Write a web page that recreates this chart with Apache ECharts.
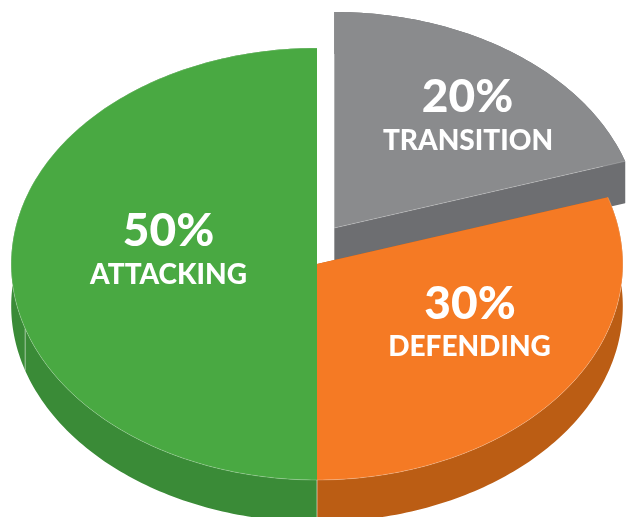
<!DOCTYPE html>
<html>
<head>
<meta charset="utf-8">
<style>
  html, body { margin: 0; padding: 0; background: #fff; }
  #chart { width: 630px; height: 517px; }
</style>
</head>
<body>
<div id="chart"></div>
<script src="https://cdn.jsdelivr.net/npm/echarts@6/dist/echarts.min.js"></script>
<script>
// slices clockwise from 12 o'clock
const categories = ["TRANSITION", "DEFENDING", "ATTACKING"];
const shares = [20, 30, 50];

const topColors = ["#8a8b8d", "#f57a24", "#49a942"];
const sideColors = ["#6d6e71", "#bb5d14", "#3a8b37"];

// the pie is squashed into an ellipse, axes run in page pixels
const cx = 317, cy = 264, rx = 305.8, ry = 216, depth = 42;
const offsets = [[17.3, -36], [0, 0], [0, 0]]; // exploded slice
// number x, number y, name x, name y
const labelPos = [[467.5, 97, 468, 141], [470, 304, 469.5, 347], [168.5, 231, 168.5, 275]];
const seamAngles = [[], [], [180, 252.6]]; // lines on the side wall

function rim(deg, off, drop) {
  const a = (deg * Math.PI) / 180;
  return [
    cx + off[0] + rx * Math.sin(a),
    cy + off[1] + drop - ry * Math.cos(a),
  ];
}

function arc(from, to, off, drop) {
  const pts = [];
  const steps = Math.ceil(to - from);
  for (let s = 0; s <= steps; s++) {
    pts.push(rim(from + ((to - from) * s) / steps, off, drop));
  }
  return pts;
}

function renderSlice(params, api) {
  const i = api.value(0);
  let before = 0;
  for (let k = 0; k < i; k++) before += shares[k];
  const from = (before / 100) * 360;
  const to = ((before + api.value(1)) / 100) * 360;
  const off = offsets[i];
  const apex = [cx + off[0], cy + off[1]];
  const apexLow = [apex[0], apex[1] + depth];
  const top = arc(from, to, off, 0);
  const low = arc(from, to, off, depth);

  const toPx = (pts) => pts.map((p) => api.coord(p));
  const children = [];

  // side wall: outer rim and the cut face on the last edge
  children.push({
    type: "polygon",
    shape: { points: toPx(top.concat(low.slice().reverse())) },
    style: { fill: sideColors[i] },
  });
  children.push({
    type: "polygon",
    shape: { points: toPx([apex, top[top.length - 1], low[low.length - 1], apexLow]) },
    style: { fill: sideColors[i] },
  });
  children.push({
    type: "polygon",
    shape: { points: toPx([apex, top[0], low[0], apexLow]) },
    style: { fill: sideColors[i] },
  });

  seamAngles[i].forEach((deg) => {
    const a = api.coord(rim(deg, off, 0));
    const b = api.coord(rim(deg, off, depth));
    children.push({
      type: "line",
      shape: { x1: a[0], y1: a[1], x2: b[0], y2: b[1] },
      style: { stroke: "rgba(255,255,255,0.55)", lineWidth: 1 },
    });
  });

  children.push({
    type: "polygon",
    shape: { points: toPx([apex].concat(top)) },
    style: { fill: topColors[i] },
  });
  // faint highlight where the top meets the wall
  children.push({
    type: "polyline",
    shape: { points: toPx(i === 0 ? [apex, top[top.length - 1]] : top) },
    style: { fill: null, stroke: "rgba(255,255,255,0.3)", lineWidth: 0.7 },
  });

  const pos = labelPos[i];
  const a = api.coord([pos[0], pos[1]]);
  const b = api.coord([pos[2], pos[3]]);
  children.push({
    type: "text",
    style: {
      x: a[0], y: a[1],
      text: api.value(1) + "%",
      fill: "#fff",
      font: "900 46px Lato",
      align: "center",
      verticalAlign: "middle",
    },
  });
  children.push({
    type: "text",
    style: {
      x: b[0], y: b[1],
      text: categories[i],
      fill: "#fff",
      font: "900 28px Lato",
      align: "center",
      verticalAlign: "middle",
    },
  });

  return { type: "group", children };
}

const chart = echarts.init(document.getElementById("chart"));
chart.setOption({
  animation: false,
  backgroundColor: "#fff",
  grid: { left: 0, right: 0, top: 0, bottom: 0 },
  xAxis: { type: "value", min: 0, max: 630, show: false },
  yAxis: { type: "value", min: 0, max: 517, inverse: true, show: false },
  series: [
    {
      type: "custom",
      clip: false,
      renderItem: renderSlice,
      encode: { x: 0, y: 1 },
      data: shares.map((v, i) => [i, v]),
    },
  ],
});
</script>
</body>
</html>
